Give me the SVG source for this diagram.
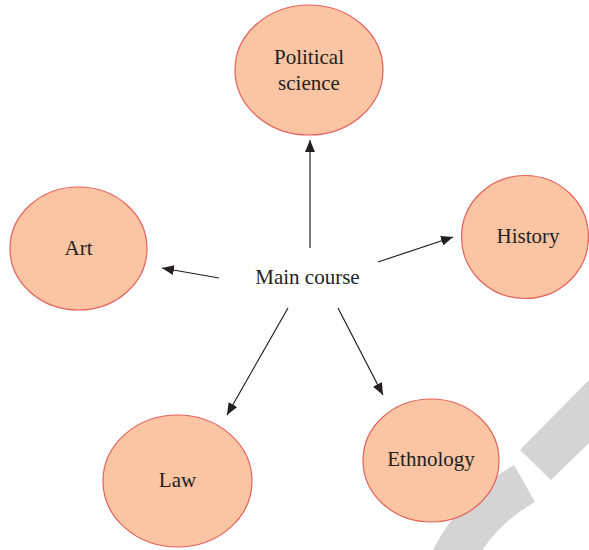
<svg xmlns="http://www.w3.org/2000/svg" width="589" height="550" viewBox="0 0 589 550">
<style>
.node ellipse{fill:#FBC4A3;stroke:#E4605A;stroke-width:1.2}
text{font-family:"Liberation Serif","Times New Roman",serif;font-size:21px;fill:#231F20;text-anchor:middle}
.edges line{stroke:#231F20;stroke-width:1.2}
.wm{fill:#D4D4D4}
</style>
<defs>
<marker id="ah" viewBox="0 0 12 10" refX="12" refY="5" markerWidth="12" markerHeight="10" markerUnits="userSpaceOnUse" orient="auto">
<path d="M0,0 L12,5 L0,10 Z" fill="#231F20"/>
</marker>
</defs>
<rect width="589" height="550" fill="#fff"/>
<g id="watermark">
<polygon class="wm" points="589,380 520,450 551,480 589,443"/>
<path d="M 524.5 483.5 A 181.5 181.5 0 0 0 432.5 642" fill="none" stroke="#D4D4D4" stroke-width="42.5"/>
</g>
<g id="political" class="node"><ellipse cx="309" cy="70" rx="74" ry="65"/><text x="309" y="64">Political</text><text x="309" y="90">science</text></g>
<g id="art" class="node"><ellipse cx="78.5" cy="248.5" rx="68.5" ry="61.5"/><text x="78.5" y="255">Art</text></g>
<g id="history" class="node"><ellipse cx="525" cy="237" rx="63.5" ry="61.5"/><text x="528" y="243">History</text></g>
<g id="law" class="node"><ellipse cx="177.5" cy="481" rx="74.5" ry="66"/><text x="177.5" y="487">Law</text></g>
<g id="ethnology" class="node"><ellipse cx="431" cy="460.5" rx="68" ry="61.5"/><text x="431" y="466">Ethnology</text></g>
<g id="main"><text x="307.5" y="284">Main course</text></g>
<g class="edges" id="connectors">
<line x1="310" y1="248" x2="310" y2="140" marker-end="url(#ah)"/>
<line x1="219" y1="278" x2="162" y2="268" marker-end="url(#ah)"/>
<line x1="378" y1="262" x2="453" y2="237" marker-end="url(#ah)"/>
<line x1="288" y1="308" x2="227" y2="415" marker-end="url(#ah)"/>
<line x1="338" y1="308" x2="383" y2="395" marker-end="url(#ah)"/>
</g>
</svg>
